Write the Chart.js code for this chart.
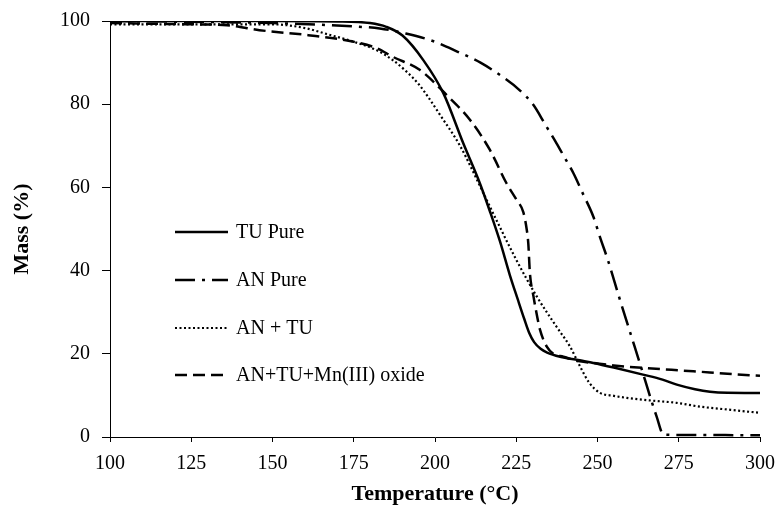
<!DOCTYPE html>
<html>
<head>
<meta charset="utf-8">
<script src="https://cdn.jsdelivr.net/npm/chart.js@4.4.1/dist/chart.umd.min.js"></script>
<style>
  html, body { margin: 0; padding: 0; background: #fff; }
  #wrap { width: 778px; height: 508px; }
</style>
</head>
<body>
<div id="wrap"><canvas id="c"></canvas></div>
<script>
// TGA curves (temperature in °C, mass in %)
const seriesNames = ['TU Pure', 'AN Pure', 'AN + TU', 'AN+TU+Mn(III) oxide'];

const tempTU = [100, 125, 150, 170, 180, 185, 190, 196.4, 202.6, 208.7, 213.8, 217, 220, 223, 225.5, 227.5, 229, 230.5, 232.5, 234.5, 238.5, 244, 248.7, 255, 264, 270, 274.4, 280, 284.6, 290, 300];
const massTU = [100, 100, 100, 99.9, 99.5, 98.6, 96.5, 90.6, 82.6, 70.6, 61, 54, 47, 39, 33, 28.3, 25, 22.8, 21.2, 20.3, 19.3, 18.5, 17.8, 16.7, 15, 13.8, 12.6, 11.5, 10.9, 10.65, 10.6];

const tempAN = [100, 125, 150, 175, 183, 191, 200, 207, 214, 220, 226, 230.3, 234, 237.4, 240, 242.6, 245.5, 248.7, 251, 253, 256.9, 263, 268.2, 270.3, 275, 300];
const massAN = [100, 99.8, 99.5, 98.7, 98.2, 97, 95, 92.6, 90, 87, 83.4, 79.8, 75, 70.6, 67, 63.4, 58.5, 53, 47.5, 43, 33, 17.8, 4.9, 0.6, 0.5, 0.4];

const tempMix = [100, 125, 150, 160, 167, 175, 182, 187, 191, 195, 198, 201.5, 207.7, 214.9, 219, 225, 231.3, 237.4, 241.5, 244.6, 247.5, 250.8, 255, 259, 266, 274.4, 281.5, 290, 300];
const massMix = [99.2, 99.2, 99.2, 98.3, 96.8, 95, 93, 90.6, 88, 84.8, 81.6, 77.5, 70, 58.6, 52, 42.6, 33.8, 26.5, 21.8, 17, 13, 10.6, 9.9, 9.4, 8.8, 8.2, 7.3, 6.6, 5.8];

const tempMn = [100, 125, 136, 146, 161, 175, 182, 187, 195.4, 203.6, 210.8, 216.9, 222, 225.1, 227.2, 228.2, 228.7, 229.2, 230.3, 231.3, 232.3, 234.4, 236.4, 239.5, 244.6, 248.7, 255, 264, 279.5, 290, 300];
const massMn = [99.5, 99.2, 99, 97.8, 96.6, 95, 93.5, 91.4, 88.2, 82.2, 76.2, 69, 61, 57, 54, 50, 46.6, 39.4, 33.8, 29.5, 25.8, 21.7, 20, 19.3, 18.2, 17.8, 17.2, 16.6, 15.8, 15.2, 14.7];

const xTicks = [100, 125, 150, 175, 200, 225, 250, 275, 300];
const yTicks = [0, 20, 40, 60, 80, 100];

const pts = (xs, ys) => xs.map((x, i) => ({ x: x, y: ys[i] }));

const dashes = [[], [20, 7, 3, 7], [2, 2.5], [12, 6]];
const widths = [2.5, 2.5, 2.2, 2.5];
const allData = [pts(tempTU, massTU), pts(tempAN, massAN), pts(tempMix, massMix), pts(tempMn, massMn)];

const serif = '"Liberation Serif", "Times New Roman", serif';

// legend drawn inside the plot, like the original
const insideLegend = {
  id: 'insideLegend',
  afterDraw(chart) {
    const ctx = chart.ctx;
    const rows = [232, 280, 328, 375];
    ctx.save();
    chart.data.datasets.forEach((ds, i) => {
      const y = rows[i];
      ctx.beginPath();
      ctx.setLineDash(ds.borderDash || []);
      ctx.lineWidth = ds.borderWidth;
      ctx.strokeStyle = '#000';
      ctx.moveTo(175, y);
      ctx.lineTo(228, y);
      ctx.stroke();
      ctx.setLineDash([]);
      ctx.fillStyle = '#000';
      ctx.font = '20px ' + serif;
      ctx.textBaseline = 'middle';
      ctx.fillText(ds.label, 236, y + 1);
    });
    ctx.restore();
  }
};

new Chart(document.getElementById('c'), {
  type: 'line',
  data: {
    datasets: seriesNames.map((name, i) => ({
      label: name,
      data: allData[i],
      borderColor: '#000',
      borderWidth: widths[i],
      borderDash: dashes[i],
      pointRadius: 0,
      fill: false,
      cubicInterpolationMode: 'monotone'
    }))
  },
  options: {
    responsive: true,
    maintainAspectRatio: false,
    animation: false,
    layout: { padding: { top: 21, right: 18, bottom: 0, left: 0 } },
    plugins: { legend: { display: false }, tooltip: { enabled: false } },
    scales: {
      x: {
        type: 'linear',
        min: 100, max: 300,
        afterFit: s => { s.height = 71; s.paddingLeft = 0; s.paddingRight = 0; },
        afterBuildTicks: s => { s.ticks = xTicks.map(v => ({ value: v })); },
        grid: { drawOnChartArea: false, drawTicks: true, tickLength: 5, color: '#000' },
        border: { display: true, color: '#000', width: 1 },
        ticks: { color: '#000', padding: 10, maxRotation: 0, font: { family: serif, size: 20 } },
        title: { display: true, text: 'Temperature (°C)', color: '#000', padding: { top: 0, bottom: 0 },
                 font: { family: serif, size: 22, weight: 'bold' } }
      },
      y: {
        min: 0, max: 100,
        afterFit: s => { s.width = 110; s.paddingTop = 0; s.paddingBottom = 0; },
        afterBuildTicks: s => { s.ticks = yTicks.map(v => ({ value: v })); },
        grid: { drawOnChartArea: false, drawTicks: true, tickLength: 8, color: '#000' },
        border: { display: true, color: '#000', width: 1 },
        ticks: { color: '#000', padding: 12, font: { family: serif, size: 20 } },
        title: { display: true, text: 'Mass (%)', color: '#000', padding: { top: 9, bottom: 0 },
                 font: { family: serif, size: 22, weight: 'bold' } }
      }
    }
  },
  plugins: [insideLegend]
});
</script>
</body>
</html>
